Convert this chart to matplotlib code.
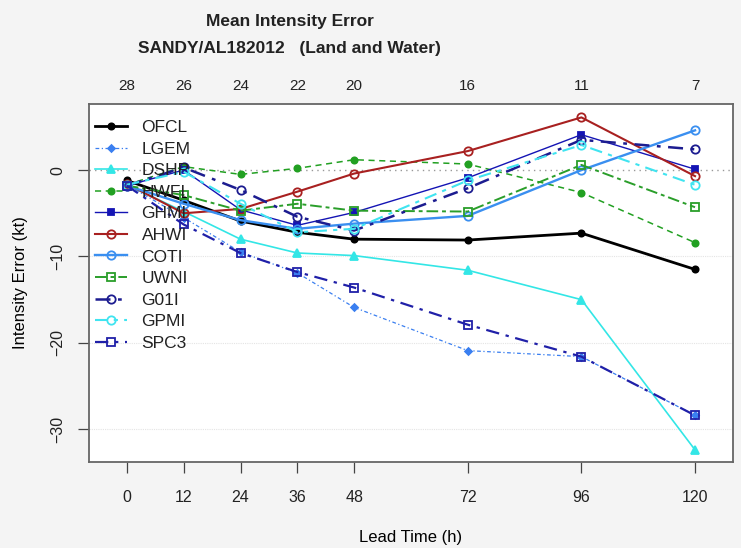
#!/usr/bin/env python3
"""Mean intensity error for SANDY/AL182012, models vs. lead time."""

import matplotlib

matplotlib.use('Agg')
from matplotlib import pyplot as plt  # noqa: E402

HOURS = [0, 12, 24, 36, 48, 72, 96, 120]
CASES = [28, 26, 24, 22, 20, 16, 11, 7]

OFCL = [-1.2, -3.5, -5.9, -7.2, -8.0, -8.1, -7.3, -11.5]
LGEM = [-1.7, -5.5, -9.5, -11.9, -15.9, -20.9, -21.6, -28.4]
DSHP = [-1.7, -4.8, -8.0, -9.6, -9.9, -11.6, -15.0, -32.4]
HWFI = [-1.7, 0.4, -0.5, 0.2, 1.2, 0.7, -2.6, -8.4]
GHMI = [-1.8, 0.0, -4.6, -6.4, -4.9, -0.9, 4.1, 0.1]
AHWI = [-1.6, -5.0, -4.5, -2.5, -0.4, 2.2, 6.1, -0.7]
COTI = [-1.8, -3.9, -5.8, -6.8, -6.2, -5.3, 0.0, 4.6]
UWNI = [-1.8, -2.9, -4.7, -3.9, -4.7, -4.8, 0.6, -4.3]
G01I = [-1.8, 0.3, -2.3, -5.4, -7.0, -2.1, 3.5, 2.4]
GPMI = [-1.7, -0.2, -3.9, -7.2, -6.8, -1.2, 2.9, -1.7]
SPC3 = [-1.8, -6.3, -9.6, -11.8, -13.6, -17.9, -21.6, -28.4]

FONT = ['Liberation Sans', 'DejaVu Sans']

# (label, values, colour, linestyle, linewidth, marker, filled, markersize)
SERIES = [
    ('OFCL', OFCL, '#000000', '-', 2.0, 'o', True, 4.5),
    ('LGEM', LGEM, '#3a7ff0', (0, (3, 2, 1, 2)), 0.9, 'D', True, 3.5),
    ('DSHP', DSHP, '#33e6e6', '-', 1.2, '^', True, 5.5),
    ('HWFI', HWFI, '#22a022', (0, (4, 3)), 1.1, 'o', True, 4.5),
    ('GHMI', GHMI, '#1414b4', '-', 1.0, 's', True, 4.5),
    ('AHWI', AHWI, '#a82020', '-', 1.5, 'o', False, 6.0),
    ('COTI', COTI, '#3a8ff0', '-', 1.7, 'o', False, 6.0),
    ('UWNI', UWNI, '#2a9e2a', (0, (6, 2, 2, 2)), 1.4, 's', False, 5.5),
    ('G01I', G01I, '#1c1c90', (0, (6, 3, 1.5, 3)), 1.8, 'o', False, 6.0),
    ('GPMI', GPMI, '#40e4f0', (0, (6, 3, 2, 3)), 1.5, 'o', False, 6.0),
    ('SPC3', SPC3, '#2020a8', (0, (6, 3, 1.5, 3)), 1.6, 's', False, 5.5),
]


def main() -> None:
    plt.rcParams.update({
        'font.family': FONT,
        'font.size': 11,
        'text.color': '#222222',
        'xtick.color': '#444444',
        'ytick.color': '#444444',
        'xtick.labelcolor': '#222222',
        'ytick.labelcolor': '#222222',
    })
    fig = plt.figure(figsize=(7.41, 5.48), dpi=100, facecolor='#f4f4f4')
    ax = fig.add_axes([0.1201, 0.1569, 0.869, 0.6533], facecolor='white')

    ax.axhline(0, color='#999999', linewidth=1.0, linestyle=(0, (1, 3)), zorder=1)
    for level in (-10, -20, -30):
        ax.axhline(level, color='#e4e4e4', linewidth=0.8, linestyle=(0, (1, 1)), zorder=1)

    for label, values, color, style, width, marker, filled, size in SERIES:
        ax.plot(
            HOURS,
            values,
            color=color,
            linestyle=style,
            linewidth=width,
            marker=marker,
            markersize=size,
            markerfacecolor=color if filled else 'none',
            markeredgecolor=color,
            markeredgewidth=1.3,
            label=label,
            zorder=3,
        )

    ax.set_xlim(-8, 128)
    ax.set_ylim(-33.8, 7.65)
    ax.set_xticks(HOURS)
    ax.set_yticks([0, -10, -20, -30])
    ax.set_yticklabels(['0', '\u221210', '\u221220', '\u221230'], rotation=90, va='center')
    ax.tick_params(axis='both', length=8, width=0.9, labelsize=11.5)
    ax.tick_params(axis='x', pad=12)
    ax.tick_params(axis='y', pad=9)
    for spine in ax.spines.values():
        spine.set_color('#666666')
        spine.set_linewidth(1.3)

    top = ax.twiny()
    top.set_xlim(ax.get_xlim())
    top.set_xticks(HOURS)
    top.set_xticklabels([str(n) for n in CASES])
    top.tick_params(axis='x', length=0, pad=8, labelsize=11)
    for spine in top.spines.values():
        spine.set_visible(False)

    ax.set_xlabel('Lead Time (h)', fontsize=12)
    ax.xaxis.set_label_coords(0.5, -0.19)
    ax.set_ylabel('Intensity Error (kt)', fontsize=12)
    ax.yaxis.set_label_coords(-0.095, 0.5)

    fig.text(0.391, 0.961, 'Mean Intensity Error', ha='center', va='center',
             fontsize=12.5, fontweight='bold')
    fig.text(0.391, 0.912, 'SANDY/AL182012   (Land and Water)', ha='center', va='center',
             fontsize=12.5, fontweight='bold')

    ax.legend(
        loc='upper left',
        bbox_to_anchor=(-0.002, 0.975),
        frameon=False,
        prop={'family': FONT, 'size': 12.5},
        handlelength=1.85,
        handletextpad=0.85,
        labelspacing=0.37,
        borderaxespad=0.0,
    )

    fig.savefig('out.png', dpi=100, facecolor=fig.get_facecolor())
    plt.close(fig)


if __name__ == '__main__':
    main()
